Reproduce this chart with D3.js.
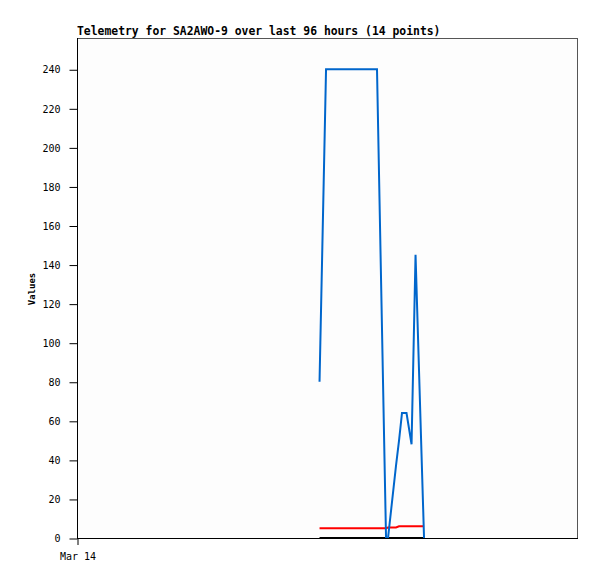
<!DOCTYPE html>
<html>
<head>
<meta charset="utf-8">
<script src="https://cdn.jsdelivr.net/npm/d3@7"></script>
<style>
  html, body { margin: 0; padding: 0; background: #ffffff; }
  svg { display: block; }
</style>
</head>
<body>
<script>
// ---- data ----
const times = [
  "2024-03-15T22:34", "2024-03-15T23:49", "2024-03-16T09:36", "2024-03-16T11:20",
  "2024-03-16T11:43", "2024-03-16T13:15", "2024-03-16T13:50", "2024-03-16T14:24",
  "2024-03-16T15:16", "2024-03-16T16:14", "2024-03-16T17:00", "2024-03-16T18:38"
];
const blueValues  = [80, 240, 240, 0, 0, 37, 50, 64, 64, 48, 145, 0];
const redValues   = [5, 5, 5, 5, 5.4, 5.4, 6, 6, 6, 6, 6, 6];
const blackValues = [0, 0, 0, 0, 0, 0, 0, 0, 0, 0, 0, 0];
const yTicks = [0, 20, 40, 60, 80, 100, 120, 140, 160, 180, 200, 220, 240];
const xTickDates = ["2024-03-14T00:00"];
const xTickLabels = ["Mar 14"];
const titleText = "Telemetry for SA2AWO-9 over last 96 hours (14 points)";
const yTitle = "Values";
const xDomain = ["2024-03-14T00:00", "2024-03-18T00:00"];
const yDomain = [0, 256];

(function () {
// ---- layout ----
const W = 597, H = 579;
const pL = 77, pR = 577, pT = 38, pB = 538;
const parse = d3.timeParse("%Y-%m-%dT%H:%M");

const svg = d3.select("body").append("svg").attr("width", W).attr("height", H);

const x = d3.scaleTime().domain(xDomain.map(parse)).range([pL, pR]);
const y = d3.scaleLinear().domain(yDomain).range([pB, pT]);

// frame (top & right gray)
svg.append("rect").attr("x", pL + 0.5).attr("y", pT + 0.5)
  .attr("width", pR - pL).attr("height", pB - pT)
  .attr("fill", "#fdfdfd").attr("stroke", "#555").attr("stroke-width", 1);

// series
const series = [
  { vals: blackValues, color: "#000000" },
  { vals: redValues, color: "#ff0000" },
  { vals: blueValues, color: "#0066cc" }
];
const line = d3.line().x(d => x(d.t)).y(d => y(d.v));
series.forEach(s => {
  const pts = times.map((t, i) => ({ t: parse(t), v: s.vals[i] }));
  svg.append("path").datum(pts).attr("d", line)
    .attr("fill", "none").attr("stroke", s.color).attr("stroke-width", 2)
    .attr("stroke-linejoin", "miter");
});

// y axis
const yAxis = d3.axisLeft(y).tickValues(yTicks).tickSize(8).tickPadding(9).tickSizeOuter(0);
const gy = svg.append("g").attr("transform", `translate(${pL + 0.5},0.5)`).call(yAxis);
gy.select(".domain").remove();
gy.selectAll("line").attr("stroke", "#000");
gy.selectAll("text").attr("font-family", "DejaVu Sans Mono, monospace")
  .attr("font-size", "10px").attr("fill", "#000");

// x axis
const xAxis = d3.axisBottom(x).tickValues(xTickDates.map(parse))
  .tickFormat((d, i) => xTickLabels[i]).tickSize(7).tickPadding(8).tickSizeOuter(0);
const gx = svg.append("g").attr("transform", `translate(0.5,${pB})`).call(xAxis);
gx.select(".domain").remove();
gx.selectAll("line").attr("stroke", "#000");
gx.selectAll("text").attr("font-family", "DejaVu Sans Mono, monospace")
  .attr("font-size", "10px").attr("fill", "#000");

// axis lines (left & bottom black)
svg.append("line").attr("x1", pL + 0.5).attr("x2", pL + 0.5).attr("y1", pT).attr("y2", pB + 1)
  .attr("stroke", "#000");
svg.append("line").attr("x1", pL).attr("x2", pR + 1).attr("y1", pB + 0.5).attr("y2", pB + 0.5)
  .attr("stroke", "#000");

// title
svg.append("text").attr("x", pL).attr("y", 35)
  .attr("font-family", "DejaVu Sans Mono, monospace").attr("font-weight", "bold")
  .attr("font-size", "11.4px").attr("fill", "#000").text(titleText);

// y title
svg.append("text").attr("transform", `translate(35,${(pT + pB) / 2 + 1}) rotate(-90)`)
  .attr("text-anchor", "middle")
  .attr("font-family", "DejaVu Sans Mono, monospace").attr("font-weight", "bold")
  .attr("font-size", "9px").attr("fill", "#000").text(yTitle);
})();
</script>
</body>
</html>
